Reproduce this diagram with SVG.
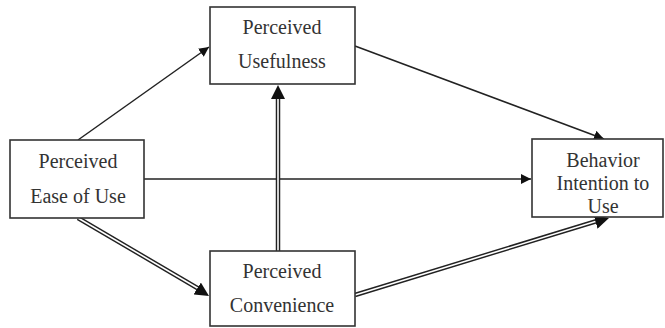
<svg xmlns="http://www.w3.org/2000/svg" width="665" height="328" viewBox="0 0 665 328">
<style>
.box{fill:#fff;stroke:#333;stroke-width:1.6}
.t{font-family:"Liberation Serif","Times New Roman","DejaVu Serif",serif;font-size:20px;fill:#333;text-anchor:middle}
.thin{stroke:#222;stroke-width:1.5;fill:none}
.dbl{stroke:#222;stroke-width:4.5;fill:none}
.dblin{stroke:#fff;stroke-width:1.6;fill:none}
</style>
<defs>
<marker id="ah" viewBox="0 0 10 10" refX="10" refY="5" markerWidth="10" markerHeight="10" markerUnits="userSpaceOnUse" orient="auto"><path d="M0,0 L10,5 L0,10 Z" fill="#111"/></marker>
<marker id="ahb" viewBox="0 0 10 10" refX="10" refY="5" markerWidth="14" markerHeight="14" markerUnits="userSpaceOnUse" orient="auto"><path d="M0,0 L10,5 L0,10 Z" fill="#111"/></marker>
</defs>
<g id="connectors">
<line class="thin" x1="78" y1="140" x2="209" y2="47" marker-end="url(#ah)"/>
<line class="thin" x1="355" y1="46" x2="604" y2="139" marker-end="url(#ah)"/>
<line class="thin" x1="144" y1="179" x2="531" y2="179" marker-end="url(#ah)"/>
<line class="dbl" x1="278" y1="251" x2="278" y2="96"/>
<line class="dblin" x1="278" y1="251" x2="278" y2="96"/>
<line x1="278" y1="100" x2="278" y2="85" stroke-width="0" marker-end="url(#ahb)"/>
<line class="dbl" x1="78" y1="218" x2="199" y2="289"/>
<line class="dblin" x1="78" y1="218" x2="199" y2="289"/>
<line x1="190" y1="284" x2="209" y2="296" stroke-width="0" marker-end="url(#ahb)"/>
<line class="dbl" x1="355" y1="295" x2="597" y2="221"/>
<line class="dblin" x1="355" y1="295" x2="597" y2="221"/>
<line x1="585" y1="225" x2="609" y2="218" stroke-width="0" marker-end="url(#ahb)"/>
</g>
<g id="usefulness">
<rect class="box" x="210" y="7" width="145" height="77"/>
<text class="t" x="282" y="34">Perceived</text>
<text class="t" x="282" y="68">Usefulness</text>
</g>
<g id="ease">
<rect class="box" x="10" y="140" width="134" height="78"/>
<text class="t" x="78" y="168">Perceived</text>
<text class="t" x="78" y="203">Ease of Use</text>
</g>
<g id="convenience">
<rect class="box" x="210" y="251" width="145" height="75"/>
<text class="t" x="282" y="278">Perceived</text>
<text class="t" x="282" y="312">Convenience</text>
</g>
<g id="behavior">
<rect class="box" x="532" y="139" width="131" height="78"/>
<text class="t" x="603" y="167">Behavior</text>
<text class="t" x="603" y="190">Intention to</text>
<text class="t" x="603" y="213">Use</text>
</g>
</svg>
